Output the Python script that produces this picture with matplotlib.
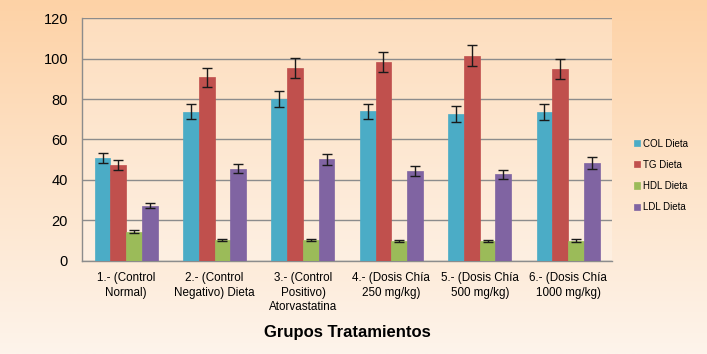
import matplotlib.pyplot as plt
import numpy as np

# data
groups = ['1.- (Control\nNormal)', '2.- (Control\nNegativo) Dieta', '3.- (Control\nPositivo)\nAtorvastatina',
          '4.- (Dosis Chía\n250 mg/kg)', '5.- (Dosis Chía\n500 mg/kg)', '6.- (Dosis Chía\n1000 mg/kg)']
series = ['COL Dieta', 'TG Dieta', 'HDL Dieta', 'LDL Dieta']
col_vals = [50.7, 73.8, 80.0, 74.0, 72.6, 73.6]
col_err = [2.5, 3.9, 3.8, 3.7, 3.8, 3.8]
tg_vals = [47.4, 90.7, 95.5, 98.3, 101.4, 94.8]
tg_err = [2.3, 4.6, 4.9, 5.0, 5.3, 4.8]
hdl_vals = [14.5, 10.4, 10.3, 9.9, 9.9, 10.0]
hdl_err = [0.8, 0.6, 0.5, 0.5, 0.5, 0.6]
ldl_vals = [27.2, 45.6, 50.2, 44.4, 42.8, 48.4]
ldl_err = [1.3, 2.4, 2.8, 2.5, 2.3, 2.8]

colors = ['#4BACC6', '#C0504D', '#9BBB59', '#8064A2']

plt.rcParams['font.family'] = ['Liberation Sans', 'DejaVu Sans']

fig = plt.figure(figsize=(7.07, 3.54), dpi=100)

# background gradient
bg = fig.add_axes([0, 0, 1, 1], zorder=-10)
top = np.array([253, 210, 166]) / 255
bot = np.array([254, 244, 235]) / 255
t = np.linspace(0, 1, 256)[:, None]
grad = top[None, :] * (1 - t) + bot[None, :] * t
bg.imshow(grad[:, None, :], aspect='auto', extent=[0, 1, 0, 1])
bg.axis('off')

ax = fig.add_axes([0.116, 0.263, 0.75, 0.686])
ax.set_facecolor((1, 1, 1, 0.25))

x = np.arange(len(groups))
w = 0.178
vals = [col_vals, tg_vals, hdl_vals, ldl_vals]
errs = [col_err, tg_err, hdl_err, ldl_err]
for i, (v, e) in enumerate(zip(vals, errs)):
    ax.bar(x + (i - 1.5) * w, v, w, color=colors[i], label=series[i], zorder=3,
           edgecolor=colors[i], linewidth=0.5)
    ax.errorbar(x + (i - 1.5) * w, v, yerr=e, fmt='none', ecolor='#1a1a1a',
                elinewidth=1, capsize=3.5, capthick=1, zorder=4)

ax.set_xlim(-0.5, len(groups) - 0.5)
ax.set_ylim(0, 120)
ax.set_yticks(range(0, 121, 20))
ax.yaxis.grid(True, color='#8c8c8c', linewidth=1)
ax.set_axisbelow(True)
ax.set_xticks(x)
ax.set_xticklabels(groups, fontsize=8.4, linespacing=1.3)
ax.tick_params(axis='both', length=0, labelsize=10.5)
ax.tick_params(axis='x', labelsize=8.4, pad=8)
ax.tick_params(axis='y', pad=10)
for s in ['top', 'right']:
    ax.spines[s].set_visible(False)
for s in ['left', 'bottom']:
    ax.spines[s].set_color('#8c8c8c')
    ax.spines[s].set_linewidth(1)

ax.set_xlabel('Grupos Tratamientos', fontsize=12, fontweight='bold', labelpad=8)

leg = ax.legend(loc='center left', bbox_to_anchor=(1.025, 0.352), frameon=False, fontsize=7,
                handlelength=0.6, handleheight=0.6, handletextpad=0.3, labelspacing=1.15)

fig.savefig('out.png', dpi=100)
